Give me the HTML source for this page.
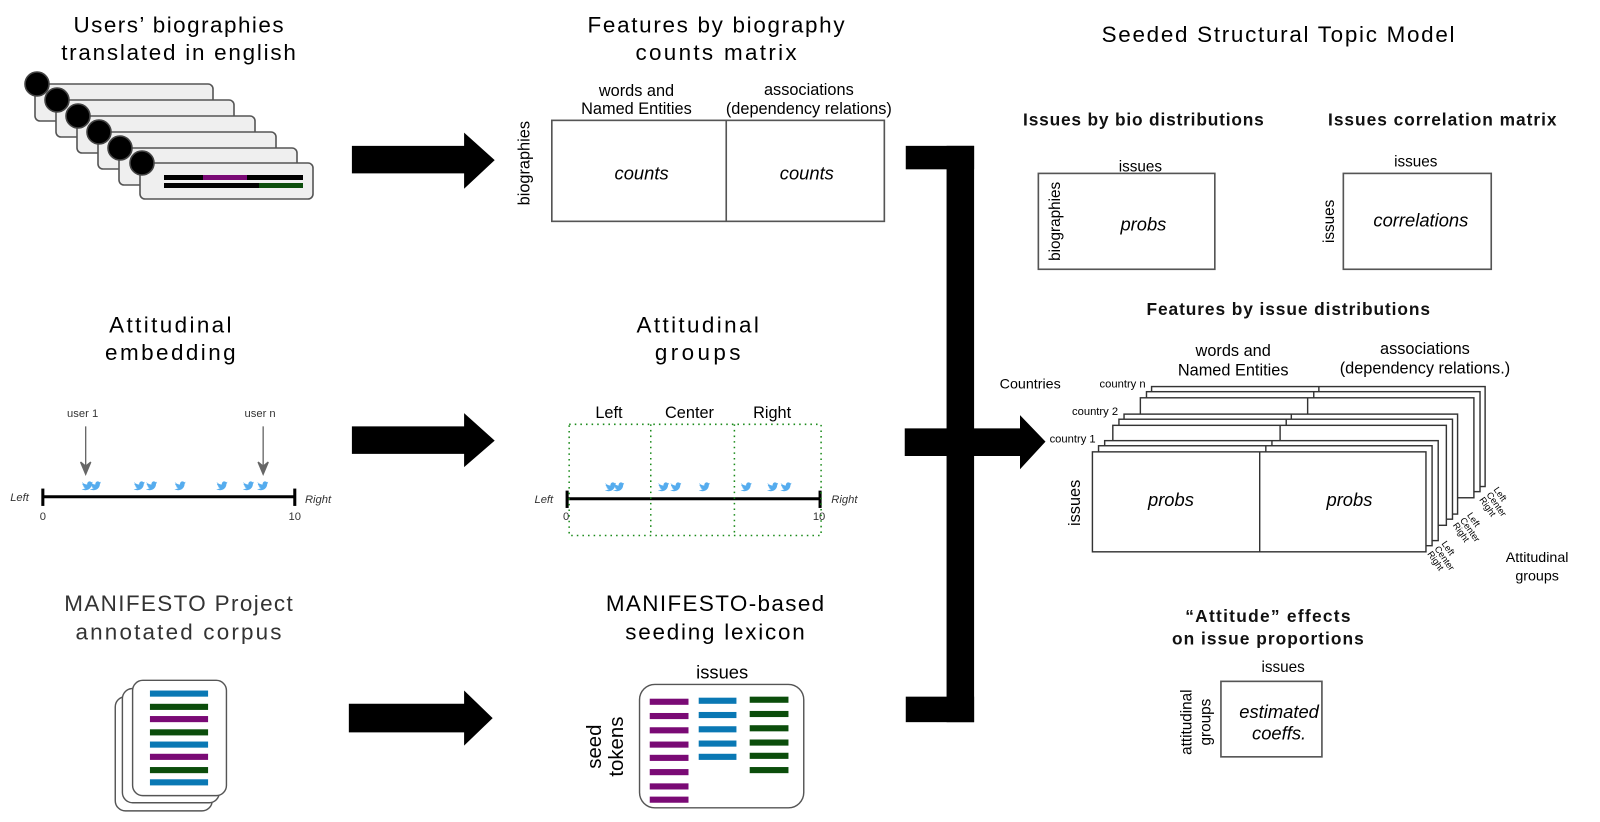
<!DOCTYPE html>
<html><head><meta charset="utf-8"><style>
html,body{margin:0;padding:0;background:#fff;}
svg{display:block;font-family:"Liberation Sans",sans-serif;}
</style></head><body>
<svg width="1600" height="822" viewBox="0 0 1600 822" xmlns="http://www.w3.org/2000/svg">
<defs>
<symbol id="b" viewBox="0 0 12 10"><path d="M0.5 1.2 C2 3 4 3.8 6 3.9 C5.8 2 7 0.6 8.6 0.6 C9.5 0.6 10.1 1 10.5 1.5 C11.1 1.4 11.6 1.2 12 0.9 C11.8 1.5 11.4 1.9 11 2.2 C11.5 2.1 11.9 2 12 1.9 C11.7 2.4 11.3 2.8 10.9 3.1 C10.9 6.5 8.5 10 4.2 10 C2.6 10 1.2 9.5 0 8.8 C1.8 9 3.2 8.5 4.3 7.7 C3 7.6 2.1 6.8 1.7 5.8 C2.2 5.9 2.6 5.9 3 5.8 C1.6 5.4 0.8 4.3 0.8 3 C1.2 3.2 1.7 3.4 2.1 3.4 C0.8 2.6 0.3 1 0.5 1.2Z" fill="#55acee"/></symbol>
</defs>

<g stroke="#555" stroke-width="1.6" fill="#efefef">
<rect x="35" y="84" width="178" height="37" rx="5"/>
<circle cx="37" cy="84" r="12" fill="#000" stroke="#444"/>
<rect x="56" y="100" width="178" height="37" rx="5"/>
<circle cx="57" cy="100" r="12" fill="#000" stroke="#444"/>
<rect x="77" y="116" width="178" height="37" rx="5"/>
<circle cx="78" cy="116" r="12" fill="#000" stroke="#444"/>
<rect x="98" y="132" width="178" height="37" rx="5"/>
<circle cx="99" cy="132" r="12" fill="#000" stroke="#444"/>
<rect x="119" y="148" width="178" height="37" rx="5"/>
<circle cx="120" cy="148" r="12" fill="#000" stroke="#444"/>
<rect x="140" y="163" width="173" height="36" rx="5"/>
<circle cx="142" cy="163" r="12" fill="#000" stroke="#444"/>
</g>
<rect x="164" y="175" width="139" height="5" fill="#000"/>
<rect x="203" y="175" width="44" height="5" fill="#7a0a75"/>
<rect x="164" y="183" width="139" height="5" fill="#000"/>
<rect x="259" y="183" width="44" height="5" fill="#0b4d0b"/>

<g transform="scale(1.02)">
<g fill="#000" text-anchor="middle">
<text x="175" y="32" font-size="22" textLength="206">Users’ biographies</text>
<text x="175" y="59" font-size="22" textLength="230">translated in english</text>
<text x="702" y="32" font-size="22" textLength="252">Features by biography</text>
<text x="702" y="59" font-size="22" textLength="158">counts matrix</text>
<text x="1253" y="41" font-size="22" textLength="346">Seeded Structural Topic Model</text>
<text x="167" y="326" font-size="22" textLength="120">Attitudinal</text>
<text x="167" y="353" font-size="22" textLength="128">embedding</text>
<text x="684" y="326" font-size="22" textLength="120">Attitudinal</text>
<text x="684" y="353" font-size="22" textLength="84">groups</text>
<text x="175" y="599" font-size="22" fill="#333" textLength="224">MANIFESTO Project</text>
<text x="175" y="627" font-size="22" fill="#333" textLength="202">annotated corpus</text>
<text x="701" y="599" font-size="22" textLength="214">MANIFESTO-based</text>
<text x="701" y="627" font-size="22" textLength="176">seeding lexicon</text>
</g>

<g fill="#000">
<polygon points="345,143 455,143 455,130 485,157 455,185 455,170 345,170"/>
<polygon points="345,418 455,418 455,405 485,432 455,458 455,445 345,445"/>
<polygon points="342,690 455,690 455,677 483,704 455,731 455,718 342,718"/>
<rect x="888" y="143" width="67" height="23"/>
<rect x="928" y="143" width="27" height="565"/>
<rect x="888" y="683" width="67" height="25"/>
<polygon points="887,420 1000,420 1000,407 1025,433 1000,460 1000,447 887,447"/>
</g>

<g text-anchor="middle" font-size="16">
<text x="624" y="94">words and</text>
<text x="624" y="112">Named Entities</text>
<text x="793" y="93">associations</text>
<text x="793" y="112">(dependency  relations)</text>
<text transform="translate(519,160) rotate(-90)">biographies</text>
</g>
<rect x="541" y="118" width="326" height="99" fill="none" stroke="#555" stroke-width="1.6"/>
<line x1="712" y1="118" x2="712" y2="217" stroke="#555" stroke-width="1.6"/>
<g text-anchor="middle" font-size="18" font-style="italic">
<text x="629" y="176">counts</text><text x="791" y="176">counts</text>
</g>

<g font-size="11" fill="#333" text-anchor="middle">
<text x="81" y="409">user 1</text><text x="255" y="409">user n</text>
<text x="42" y="510">0</text><text x="289" y="510">10</text>
<text x="555" y="510">0</text><text x="803" y="510">10</text>
</g>
<g font-size="11" font-style="italic" fill="#333">
<text x="10" y="491">Left</text><text x="299" y="493">Right</text>
<text x="524" y="493">Left</text><text x="815" y="493">Right</text>
</g>
<g stroke="#666" stroke-width="1.3" fill="#666">
<line x1="84" y1="418" x2="84" y2="458"/><polygon points="79,453 84,465 89,453 84,457"/>
<line x1="258" y1="418" x2="258" y2="458"/><polygon points="253,453 258,465 263,453 258,457"/>
</g>
<g stroke="#000" stroke-width="3">
<line x1="42" y1="487" x2="289" y2="487"/><line x1="42" y1="479" x2="42" y2="496"/><line x1="289" y1="479" x2="289" y2="496"/>
<line x1="556" y1="489" x2="804" y2="489"/><line x1="556" y1="481" x2="556" y2="498"/><line x1="804" y1="481" x2="804" y2="498"/>
</g>
<g>
<use href="#b" x="80" y="471" width="11" height="10"/><use href="#b" x="88" y="471" width="11" height="10"/>
<use href="#b" x="131" y="471" width="11" height="10"/><use href="#b" x="143" y="471" width="11" height="10"/>
<use href="#b" x="171" y="471" width="11" height="10"/><use href="#b" x="212" y="471" width="11" height="10"/>
<use href="#b" x="238" y="471" width="11" height="10"/><use href="#b" x="252" y="471" width="11" height="10"/>
<use href="#b" x="593" y="472" width="11" height="10"/><use href="#b" x="601" y="472" width="11" height="10"/>
<use href="#b" x="645" y="472" width="11" height="10"/><use href="#b" x="657" y="472" width="11" height="10"/>
<use href="#b" x="685" y="472" width="11" height="10"/><use href="#b" x="726" y="472" width="11" height="10"/>
<use href="#b" x="752" y="472" width="11" height="10"/><use href="#b" x="765" y="472" width="11" height="10"/>
</g>
<g stroke="#1a8a1a" stroke-width="1.5" stroke-dasharray="1.5,4" fill="none">
<rect x="558" y="416" width="247" height="109"/>
<line x1="638" y1="416" x2="638" y2="525"/><line x1="720" y1="416" x2="720" y2="525"/>
</g>
<g font-size="16" text-anchor="middle">
<text x="597" y="410">Left</text><text x="676" y="410">Center</text><text x="757" y="410">Right</text>
</g>

<g stroke="#555" stroke-width="1.4" fill="#fff">
<rect x="113" y="683" width="95" height="112" rx="10"/>
<rect x="120" y="675" width="95" height="112" rx="10"/>
<rect x="130" y="667" width="92" height="113" rx="10"/>
</g>
<g>
<rect x="147" y="677" width="57" height="6" fill="#0a78b4"/>
<rect x="147" y="690" width="57" height="6" fill="#0b4d0b"/>
<rect x="147" y="702" width="57" height="6" fill="#7a0a75"/>
<rect x="147" y="715" width="57" height="6" fill="#0b4d0b"/>
<rect x="147" y="727" width="57" height="6" fill="#0a78b4"/>
<rect x="147" y="739" width="57" height="6" fill="#7a0a75"/>
<rect x="147" y="752" width="57" height="6" fill="#0b4d0b"/>
<rect x="147" y="764" width="57" height="6" fill="#0a78b4"/>
</g>
<rect x="627" y="671" width="161" height="121" rx="15" fill="#fff" stroke="#555" stroke-width="1.4"/>
<text x="708" y="665" font-size="18" text-anchor="middle">issues</text>
<g font-size="20" text-anchor="middle">
<text transform="translate(589,732) rotate(-90)">seed</text>
<text transform="translate(611,732) rotate(-90)">tokens</text>
</g>
<g fill="#7a0a75">
<rect x="637" y="685" width="38" height="6"/><rect x="637" y="699" width="38" height="6"/><rect x="637" y="713" width="38" height="6"/><rect x="637" y="727" width="38" height="6"/><rect x="637" y="740" width="38" height="6"/><rect x="637" y="754" width="38" height="6"/><rect x="637" y="768" width="38" height="6"/><rect x="637" y="781" width="38" height="6"/>
</g>
<g fill="#0a78b4">
<rect x="685" y="684" width="37" height="6"/><rect x="685" y="698" width="37" height="6"/><rect x="685" y="712" width="37" height="6"/><rect x="685" y="726" width="37" height="6"/><rect x="685" y="739" width="37" height="6"/>
</g>
<g fill="#0b4d0b">
<rect x="735" y="683" width="38" height="6"/><rect x="735" y="697" width="38" height="6"/><rect x="735" y="711" width="38" height="6"/><rect x="735" y="725" width="38" height="6"/><rect x="735" y="738" width="38" height="6"/><rect x="735" y="752" width="38" height="6"/>
</g>

<g text-anchor="middle" font-size="17" font-weight="bold" fill="#111">
<text x="1121" y="123" textLength="236">Issues by bio distributions</text>
<text x="1414" y="123" textLength="224">Issues correlation matrix</text>
<text x="1263" y="309" textLength="278">Features by issue distributions</text>
<text x="1243" y="610" textLength="162">“Attitude”  effects</text>
<text x="1243" y="632" textLength="188">on issue proportions</text>
</g>
<g fill="none" stroke="#555" stroke-width="1.6">
<rect x="1018" y="170" width="173" height="94"/>
<rect x="1317" y="170" width="145" height="94"/>
<rect x="1197" y="668" width="99" height="74"/>
</g>
<g text-anchor="middle" font-size="15">
<text x="1118" y="168">issues</text>
<text x="1388" y="163">issues</text>
<text transform="translate(1039,217) rotate(-90)">biographies</text>
<text transform="translate(1308,217) rotate(-90)">issues</text>
<text x="1258" y="659">issues</text>
<text transform="translate(1168,708) rotate(-90)">attitudinal</text>
<text transform="translate(1187,708) rotate(-90)">groups</text>
</g>
<g text-anchor="middle" font-size="18" font-style="italic">
<text x="1121" y="226">probs</text>
<text x="1393" y="222">correlations</text>
<text x="1254" y="704">estimated</text>
<text x="1254" y="725">coeffs.</text>
</g>

<g fill="#fff" stroke="#333" stroke-width="1.4">
<rect x="1129" y="379" width="327" height="98"/><line x1="1293" y1="379" x2="1293" y2="477"/>
<rect x="1124" y="384" width="327" height="98"/><line x1="1288" y1="384" x2="1288" y2="482"/>
<rect x="1118" y="390" width="327" height="98"/><line x1="1282" y1="390" x2="1282" y2="488"/>
<rect x="1102" y="406" width="327" height="98"/><line x1="1266" y1="406" x2="1266" y2="504"/>
<rect x="1097" y="411" width="327" height="98"/><line x1="1261" y1="411" x2="1261" y2="509"/>
<rect x="1091" y="417" width="327" height="98"/><line x1="1255" y1="417" x2="1255" y2="515"/>
<rect x="1083" y="432" width="327" height="98"/><line x1="1247" y1="432" x2="1247" y2="530"/>
<rect x="1077" y="437" width="327" height="98"/><line x1="1241" y1="437" x2="1241" y2="535"/>
<rect x="1071" y="443" width="327" height="98"/><line x1="1235" y1="443" x2="1235" y2="541"/>
</g>
<g text-anchor="middle" font-size="18" font-style="italic">
<text x="1148" y="496">probs</text><text x="1323" y="496">probs</text>
</g>
<g font-size="16" text-anchor="middle">
<text x="1209" y="349">words and</text>
<text x="1209" y="368">Named Entities</text>
<text x="1397" y="347">associations</text>
<text x="1397" y="366">(dependency  relations.)</text>
<text transform="translate(1059,493) rotate(-90)">issues</text>
</g>
<g font-size="14" text-anchor="middle">
<text x="1010" y="381">Countries</text>
<text x="1507" y="551">Attitudinal</text>
<text x="1507" y="569">groups</text>
</g>
<g font-size="11">
<text x="1029" y="434">country 1</text>
<text x="1051" y="407">country 2</text>
<text x="1078" y="380">country n</text>
</g>
<g font-size="9">
<text transform="translate(1413,533) rotate(55)">Left</text>
<text transform="translate(1406,538) rotate(55)">Center</text>
<text transform="translate(1399,543) rotate(55)">Right</text>
<text transform="translate(1438,505) rotate(55)">Left</text>
<text transform="translate(1431,510) rotate(55)">Center</text>
<text transform="translate(1424,515) rotate(55)">Right</text>
<text transform="translate(1464,480) rotate(55)">Left</text>
<text transform="translate(1457,485) rotate(55)">Center</text>
<text transform="translate(1450,490) rotate(55)">Right</text>
</g>
</g>
</svg>
</body></html>
